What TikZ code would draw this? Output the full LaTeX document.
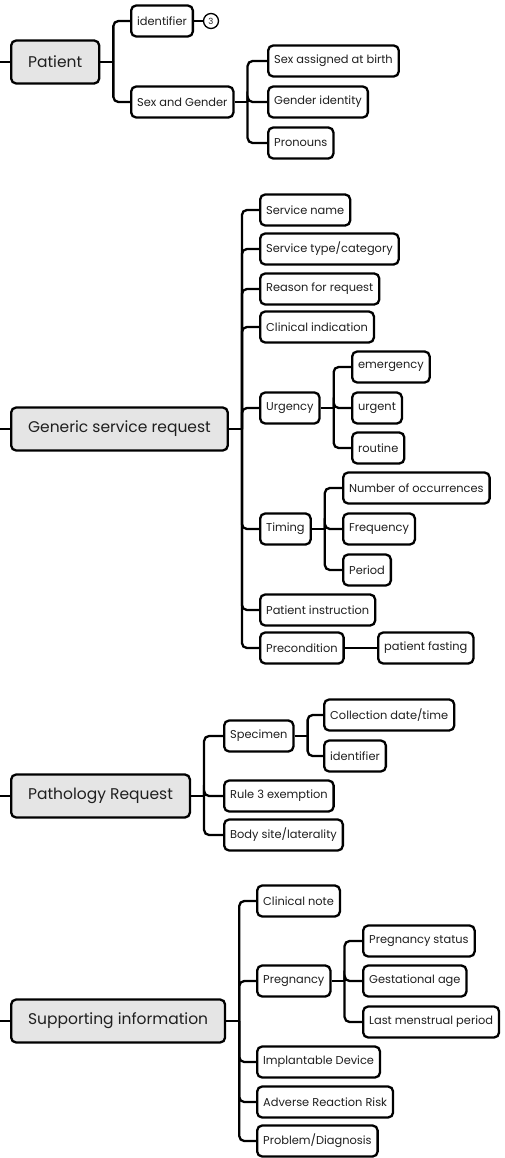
\documentclass[tikz,border=0pt]{standalone}
\usepackage{fontspec}
\setmainfont{Poppins}
\usetikzlibrary{calc}

\begin{document}
\begin{tikzpicture}
  [x=1pt,y=-1pt,
   every node/.style={draw=black,line width=2.3pt,rounded corners=5pt,anchor=west,
     text=black!88,font=\fontsize{11.4}{13}\selectfont},
   root/.style={fill=black!10,minimum height=43pt,inner xsep=17pt,font=\fontsize{15.5}{18}\selectfont},
   leaf/.style={fill=white,minimum height=31pt,inner xsep=6pt},
   link/.style={line width=2.3pt,rounded corners=5pt}]
  \useasboundingbox (0,0) rectangle (505,1158);

  % Patient
  \node[root] (pat) at (10,62) {Patient};
  \node[leaf] (pid) at (130,21)  {identifier};
  \node[leaf] (psg) at (130,102) {Sex and Gender};
  \node[leaf] (sab) at (267,61)  {Sex assigned at birth};
  \node[leaf] (gid) at (267,102) {Gender identity};
  \node[leaf] (pro) at (267,143) {Pronouns};
  \node[circle,anchor=center,inner sep=0pt,minimum size=15pt,line width=1.3pt,
    font=\fontsize{8.5}{8.5}\selectfont] (ref3) at (211,21) {3};

  % Generic service request
  \node[root] (gsr) at (10,429) {Generic service request};
  \node[leaf] (sna) at (259,210) {Service name};
  \node[leaf] (sty) at (259,249) {Service type/category};
  \node[leaf] (rfr) at (259,289) {Reason for request};
  \node[leaf] (cin) at (259,327) {Clinical indication};
  \node[leaf] (urg) at (259,408) {Urgency};
  \node[leaf] (eme) at (351,367) {emergency};
  \node[leaf] (urt) at (351,408) {urgent};
  \node[leaf] (rou) at (351,448) {routine};
  \node[leaf] (tim) at (259,529) {Timing};
  \node[leaf] (noc) at (342,488) {Number of occurrences};
  \node[leaf] (fre) at (342,529) {Frequency};
  \node[leaf] (per) at (342,570) {Period};
  \node[leaf] (pin) at (259,610) {Patient instruction};
  \node[leaf] (pre) at (259,648) {Precondition};
  \node[leaf] (pfa) at (377,648) {patient fasting};

  % Pathology Request
  \node[root] (pth) at (10,796) {Pathology Request};
  \node[leaf] (spe) at (223,736) {Specimen};
  \node[leaf] (cdt) at (323,715) {Collection date/time};
  \node[leaf] (sid) at (323,756) {identifier};
  \node[leaf] (r3e) at (223,796) {Rule 3 exemption};
  \node[leaf] (bsl) at (223,835) {Body site/laterality};

  % Supporting information
  \node[root] (sinf) at (10,1021) {Supporting information};
  \node[leaf] (cno) at (256,901)  {Clinical note};
  \node[leaf] (prg) at (256,981)  {Pregnancy};
  \node[leaf] (pst) at (362,941)  {Pregnancy status};
  \node[leaf] (gag) at (362,981)  {Gestational age};
  \node[leaf] (lmp) at (362,1022) {Last menstrual period};
  \node[leaf] (imd) at (256,1062) {Implantable Device};
  \node[leaf] (arr) at (256,1102) {Adverse Reaction Risk};
  \node[leaf] (pdx) at (256,1141) {Problem/Diagnosis};

  % stubs on the left
  \foreach \r/\y in {pat/62,gsr/429,pth/796,sinf/1021}
    \draw[link] (0,\y) coordinate (\r0) -- (\r.west);

  % branches
  \foreach \from/\kids in {pat/{pid,psg},psg/{sab,gid,pro},
      gsr/{sna,sty,rfr,cin,urg,tim,pin,pre},urg/{eme,urt,rou},tim/{noc,fre,per},
      pth/{spe,r3e,bsl},spe/{cdt,sid},
      sinf/{cno,prg,imd,arr,pdx},prg/{pst,gag,lmp}}
  {
    \draw[link] (\from.east) -- ++(13,0) coordinate (\from b);
    \foreach \to in \kids
      \draw[link] (\from b) |- (\to.west);
  }
  \draw[link] (pre) -- (pfa);
  \draw[line width=1.3pt] (pid) -- (ref3);

\end{tikzpicture}
\end{document}
